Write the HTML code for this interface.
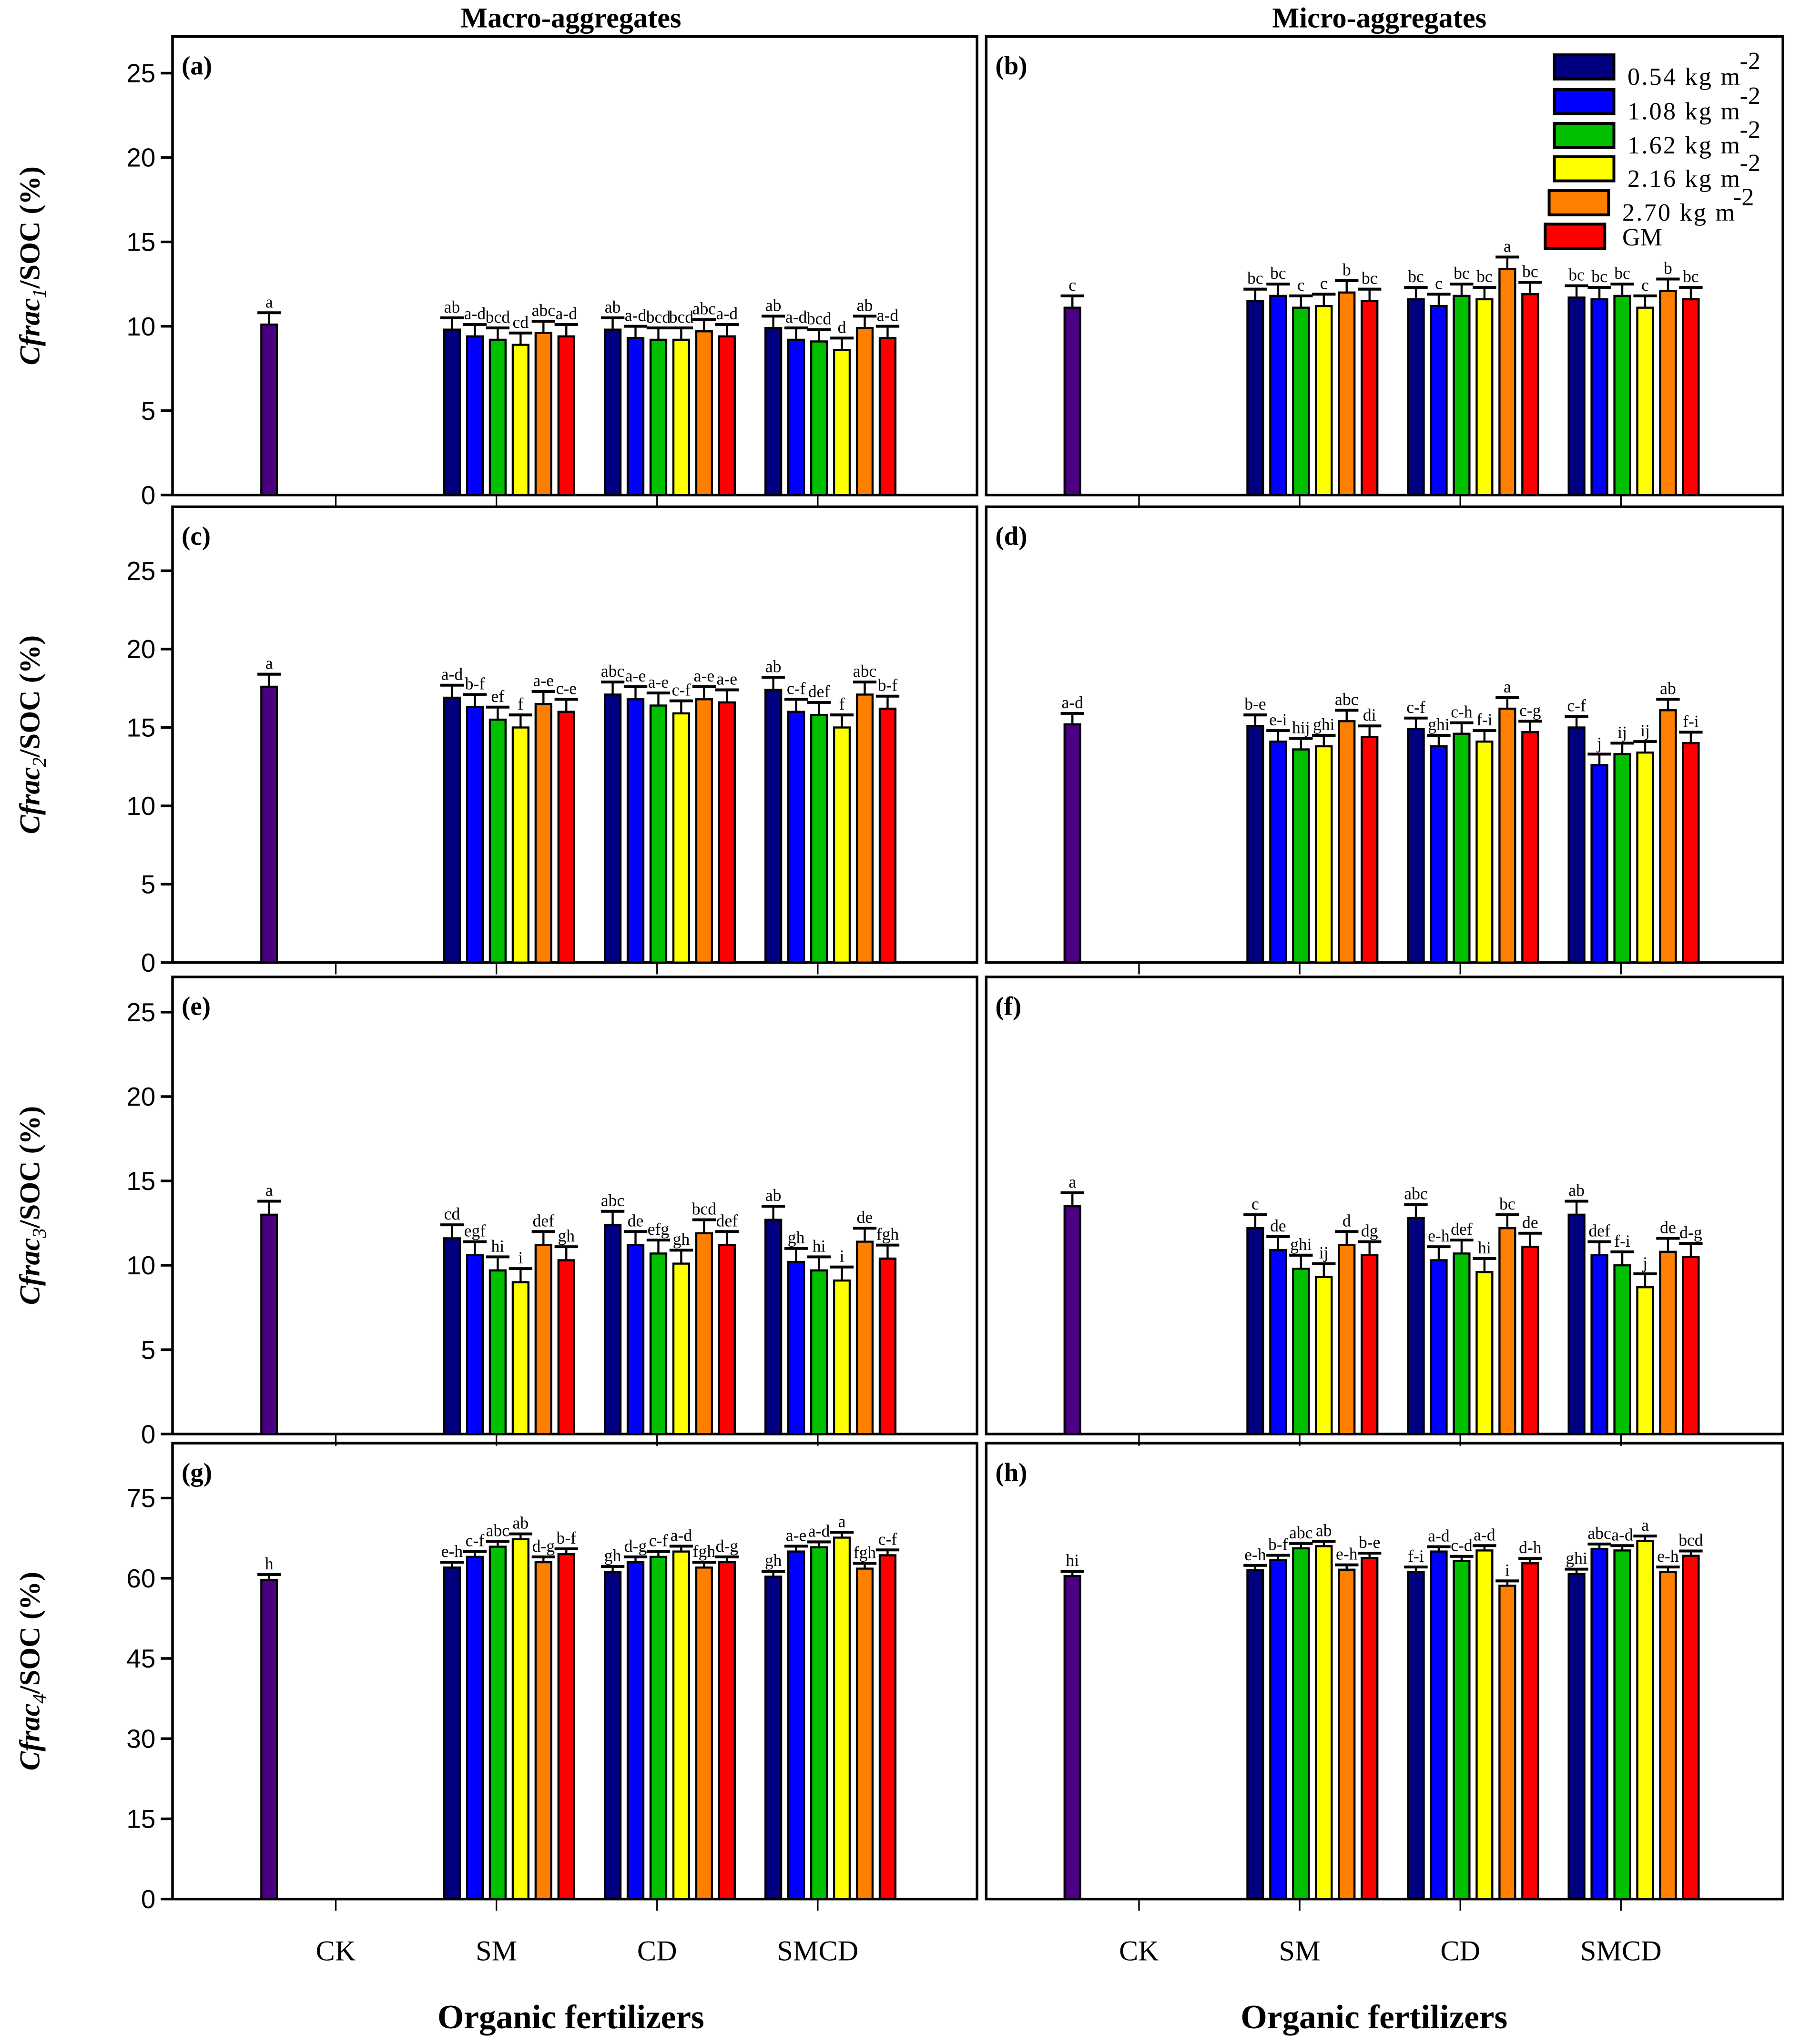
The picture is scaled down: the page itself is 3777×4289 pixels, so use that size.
<!DOCTYPE html>
<html><head><meta charset="utf-8"><style>
html,body{margin:0;padding:0;background:#fff}
svg{display:block}
</style></head><body>
<svg id="chart" xmlns="http://www.w3.org/2000/svg" width="3777" height="4289" viewBox="0 0 1378 1565">
<rect width="1378" height="1565" fill="#fff"/>
<text x="437" y="21" text-anchor="middle" font-family="Liberation Serif, serif" font-weight="bold" font-size="22">Macro-aggregates</text>
<text x="1056" y="21" text-anchor="middle" font-family="Liberation Serif, serif" font-weight="bold" font-size="22">Micro-aggregates</text>
<g id="layer"></g>
</svg>
<script>
const categories = ["CK","SM","CD","SMCD"];
const seriesNames = ["0.54 kg m","1.08 kg m","1.62 kg m","2.16 kg m","2.70 kg m","GM"];
const ckValues = [10.1, 11.1, 17.6, 15.2, 13.0, 13.5, 59.7, 60.4];
const ckLabels = ["a","c","a","a-d","a","a","h","hi"];
const panelA = [[9.8,9.4,9.2,8.9,9.6,9.4],[9.8,9.3,9.2,9.2,9.7,9.4],[9.9,9.2,9.1,8.6,9.9,9.3]];
const labelsA = [["ab","a-d","bcd","cd","abc","a-d"],["ab","a-d","bcd","bcd","abc","a-d"],["ab","a-d","bcd","d","ab","a-d"]];
const panelB = [[11.5,11.8,11.1,11.2,12.0,11.5],[11.6,11.2,11.8,11.6,13.4,11.9],[11.7,11.6,11.8,11.1,12.1,11.6]];
const labelsB = [["bc","bc","c","c","b","bc"],["bc","c","bc","bc","a","bc"],["bc","bc","bc","c","b","bc"]];
const panelC = [[16.9,16.3,15.5,15.0,16.5,16.0],[17.1,16.8,16.4,15.9,16.8,16.6],[17.4,16.0,15.8,15.0,17.1,16.2]];
const labelsC = [["a-d","b-f","ef","f","a-e","c-e"],["abc","a-e","a-e","c-f","a-e","a-e"],["ab","c-f","def","f","abc","b-f"]];
const panelD = [[15.1,14.1,13.6,13.8,15.4,14.4],[14.9,13.8,14.6,14.1,16.2,14.7],[15.0,12.6,13.3,13.4,16.1,14.0]];
const labelsD = [["b-e","e-i","hij","ghi","abc","di"],["c-f","ghi","c-h","f-i","a","c-g"],["c-f","j","ij","ij","ab","f-i"]];
const panelE = [[11.6,10.6,9.7,9.0,11.2,10.3],[12.4,11.2,10.7,10.1,11.9,11.2],[12.7,10.2,9.7,9.1,11.4,10.4]];
const labelsE = [["cd","egf","hi","i","def","gh"],["abc","de","efg","gh","bcd","def"],["ab","gh","hi","i","de","fgh"]];
const panelF = [[12.2,10.9,9.8,9.3,11.2,10.6],[12.8,10.3,10.7,9.6,12.2,11.1],[13.0,10.6,10.0,8.7,10.8,10.5]];
const labelsF = [["c","de","ghi","ij","d","dg"],["abc","e-h","def","hi","bc","de"],["ab","def","f-i","j","de","d-g"]];
const panelG = [[62.0,64.0,65.9,67.3,63.0,64.5],[61.2,63.0,64.0,65.0,62.0,63.0],[60.3,65.0,65.8,67.6,61.8,64.3]];
const labelsG = [["e-h","c-f","abc","ab","d-g","b-f"],["gh","d-g","c-f","a-d","fgh","d-g"],["gh","a-e","a-d","a","fgh","c-f"]];
const panelH = [[61.5,63.4,65.6,66.0,61.6,63.8],[61.2,65.0,63.2,65.2,58.6,62.8],[60.8,65.5,65.2,67.0,61.2,64.2]];
const labelsH = [["e-h","b-f","abc","ab","e-h","b-e"],["f-i","a-d","c-d","a-d","i","d-h"],["ghi","abc","a-d","a","e-h","bcd"]];
const errs = [0.7,0.7,0.8,0.7,0.8,0.8,1.0,0.9];
const yTicksA = [0,5,10,15,20,25];
const yTicksB = [0,15,30,45,60,75];

const NS="http://www.w3.org/2000/svg";
const layer=document.getElementById('layer');
function mk(tag,attrs,parent){const e=document.createElementNS(NS,tag);for(const k in attrs)e.setAttribute(k,attrs[k]);(parent||layer).appendChild(e);return e;}
const colors=["#000080","#0000ff","#00c000","#ffff00","#ff8000","#ff0000"];
const ckColor="#4b0082";
const rows=[{top:28,bot:379,y25:56},{top:388,bot:737,y25:437},{top:748,bot:1098,y25:775},{top:1105,bot:1454,y75:1147}];
const panels=[[panelA,labelsA],[panelB,labelsB],[panelC,labelsC],[panelD,labelsD],[panelE,labelsE],[panelF,labelsF],[panelG,labelsG],[panelH,labelsH]];
const letters=["(a)","(b)","(c)","(d)","(e)","(f)","(g)","(h)"];
const catX=[257,380,503,626];
const ckX=206;
const groupStart=[346,469,592];
const step=17.5, bw=12, cap=18;
const OFF=615;
const serif="Liberation Serif, serif";

for(let p=0;p<8;p++){
  const r=Math.floor(p/2), side=p%2, off=side?OFF:0;
  const row=rows[r];
  const ticks=r===3?yTicksB:yTicksA;
  const maxT=ticks[ticks.length-1];
  const yTop=r===3?row.y75:row.y25;
  const y=v=>row.bot-(v/maxT)*(row.bot-yTop);
  const x0=side?755:132, x1=side?1365:748;
  const g=mk('g',{});
  
  
  const fr=mk('rect',{x:x0,y:row.top,width:x1-x0,height:row.bot-row.top,fill:'none',stroke:'#000','stroke-width':2},g);
  
  
  const lt=mk('text',{x:x0+7,y:row.top+29,'font-family':serif,'font-weight':'bold','font-size':20},g);
  lt.textContent=letters[p];
  
  
  catX.forEach(cx=>{mk('line',{x1:cx+off,x2:cx+off,y1:row.bot,y2:row.bot+9,stroke:'#000','stroke-width':1.2},g);});
  if(!side){
    ticks.forEach(t=>{
      mk('line',{x1:x0-9,x2:x0,y1:y(t),y2:y(t),stroke:'#000','stroke-width':2},g);
      const tl=mk('text',{x:x0-13,y:y(t)+7,'text-anchor':'end','font-family':'Liberation Sans, sans-serif','font-size':20},g);
      tl.textContent=t;
      
      
    });
    const cy=(row.top+row.bot)/2;
    const yt=mk('text',{x:0,y:0,transform:`translate(30,${cy}) rotate(-90)`,'text-anchor':'middle','font-family':serif,'font-weight':'bold','font-size':22},g);
    
    
    const t1=mk('tspan',{'font-style':'italic'},yt);t1.textContent='Cfrac';
    const t2=mk('tspan',{'font-style':'italic','font-size':15,'font-weight':'normal',dy:5},yt);t2.textContent=String(r+1);
    const t3=mk('tspan',{dy:-5},yt);t3.textContent='/SOC (%)';
  }
  const e=errs[p];
  function bar(cx,v,col,lab,name){
    const bt=y(v), et=y(v+e);
    const b=mk('rect',{x:cx-bw/2,y:bt,width:bw,height:row.bot-bt,fill:col,stroke:'#000','stroke-width':1.6},g);
    
    
    mk('line',{x1:cx,x2:cx,y1:bt,y2:et,stroke:'#000','stroke-width':1.6},g);
    mk('line',{x1:cx-cap/2,x2:cx+cap/2,y1:et,y2:et,stroke:'#000','stroke-width':2.2},g);
    const t=mk('text',{x:cx,y:et-4,'text-anchor':'middle','font-family':serif,'font-size':13},g);
    t.textContent=lab;
    
    
  }
  bar(ckX+off,ckValues[p],ckColor,ckLabels[p],'bar-ck');
  const [vals,labs]=panels[p];
  for(let gi=0;gi<3;gi++)for(let s=0;s<6;s++){
    bar(groupStart[gi]+off+s*step,vals[gi][s],colors[s],labs[gi][s],'bar-'+categories[gi+1].toLowerCase()+'-'+s);
  }
}
[0,OFF].forEach((off)=>{
  catX.forEach((cx,k)=>{
    const t=mk('text',{x:cx+off,y:1501,'text-anchor':'middle','font-family':serif,'font-size':22});
    t.textContent=categories[k];
    
    
  });
  const xt=mk('text',{x:437+off,y:1553,'text-anchor':'middle','font-family':serif,'font-weight':'bold','font-size':26});
  xt.textContent='Organic fertilizers';
  
  
});
const lg=mk('g',{});


const boxY=[42,68.5,94.5,120,146,171.6];
seriesNames.forEach((n,i)=>{
  const bx=i===4?1186:(i===5?1183:1190);
  const r=mk('rect',{x:bx,y:boxY[i],width:45.6,height:18.5,fill:colors[i],stroke:'#000','stroke-width':2.2},lg);
  
  
  const t=mk('text',{x:i>=4?1242:1246,y:i===5?188:boxY[i]+23,'font-family':serif,'font-size':19,'letter-spacing':i<5?1.2:0},lg);
  t.textContent=n;
  
  
  if(i<5){
    const s=mk('text',{x:i===4?1327:1332,y:boxY[i]+11,'font-family':serif,'font-size':19},lg);
    s.textContent='-2';
  }
});
</script>
</body></html>
